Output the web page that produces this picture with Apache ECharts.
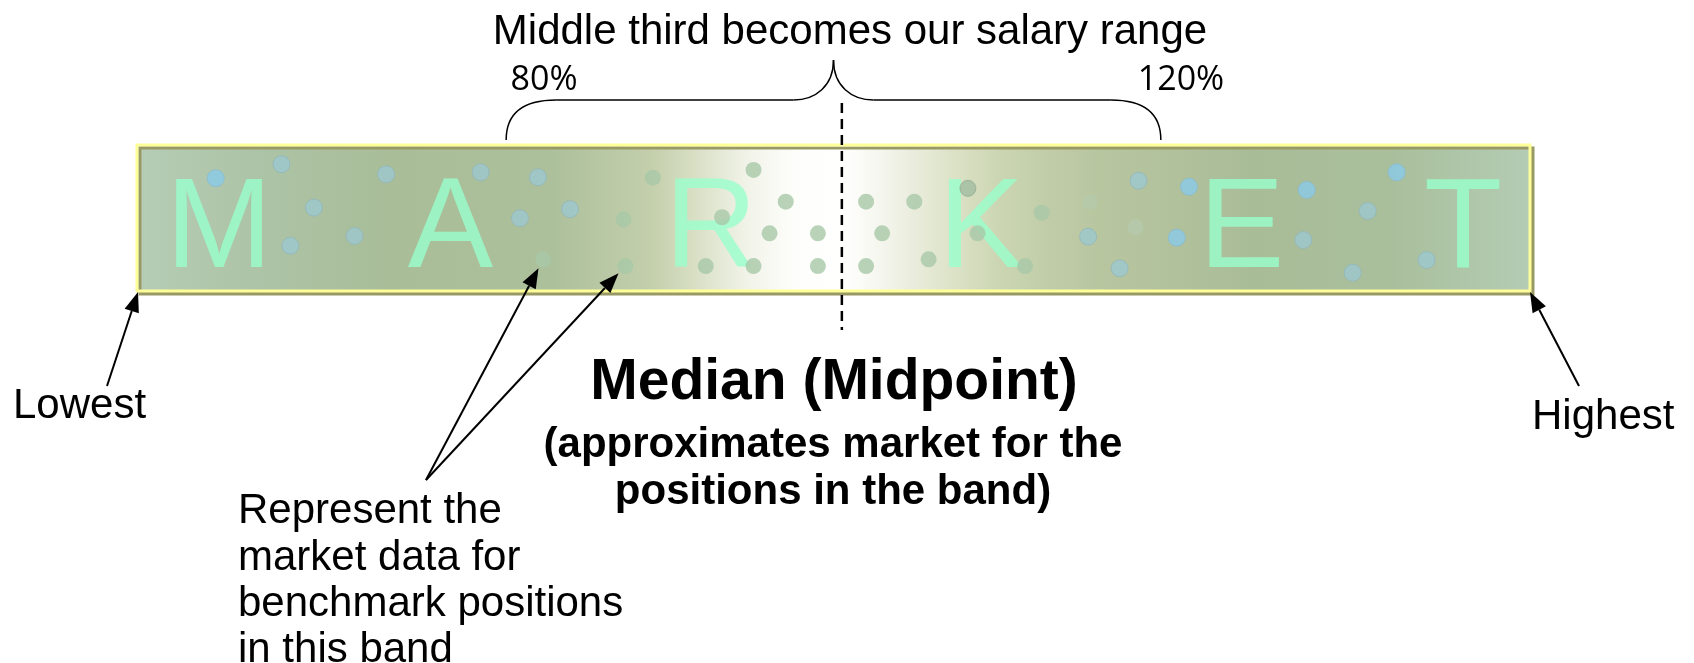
<!DOCTYPE html>
<html>
<head>
<meta charset="utf-8">
<script src="https://cdn.jsdelivr.net/npm/echarts@6/dist/echarts.min.js"></script>
<style>
  html, body { margin: 0; padding: 0; background: #fff; }
  #main { width: 1694px; height: 663px; }
</style>
</head>
<body>
<div id="main"></div>
<script>
// band coordinates: x = % from lowest to highest pay, y = % from bottom to top of the band
var letters = ['M', 'A', 'R', 'K', 'E', 'T'];
var letterX = [5.9, 22.5, 41.2, 60.6, 79.3, 95.2];
var letterY = [40.5, 40.5, 40.5, 40.5, 40.5, 40.5];

// market data points
var brightBlueDots = [[5.65, 77.2], [75.52, 71.4], [74.64, 36.5], [83.97, 69.2], [90.43, 81.3]];
var greyBlueDots = [
  [10.37, 86.8], [12.70, 57.1], [11.01, 31.0], [15.62, 37.7], [17.88, 79.9],
  [24.67, 81.3], [28.78, 77.9], [27.49, 49.8], [31.08, 56.0],
  [71.90, 75.5], [68.28, 37.2], [70.54, 15.5], [83.73, 34.9], [88.35, 54.8],
  [87.27, 12.5], [92.58, 21.2]
];
var greenDots = [
  [29.16, 21.7], [34.93, 49.1], [35.06, 17.1], [37.03, 77.6], [44.26, 82.9],
  [42.00, 50.5], [46.57, 61.2], [45.41, 39.5], [40.83, 17.1], [44.26, 17.1],
  [48.88, 39.5], [48.88, 17.1], [52.34, 61.2], [53.49, 39.5], [52.34, 17.1],
  [55.80, 61.2], [56.83, 21.7], [60.34, 39.5], [63.75, 17.1], [64.95, 53.6]
];
var greyGreenDots = [[59.65, 70.3]];
var faintDots = [[68.41, 61.2], [71.69, 43.6]];

var medianPos = 50.6;
var rangeLow = 26.5, rangeHigh = 73.5, braceTip = 50.0;
// the two dots the "Represent..." note points at
var pointedDots = [[29.16, 21.7], [35.06, 17.1]];

var FONT = '"Liberation Sans", Arial, sans-serif';

var chart = echarts.init(document.getElementById('main'));

var bandFill = new echarts.graphic.LinearGradient(0, 0, 1, 0, [
  { offset: 0, color: '#b6cdb6' },
  { offset: 0.08, color: '#adc4a8' },
  { offset: 0.18, color: '#a8bd98' },
  { offset: 0.30, color: '#adc09c' },
  { offset: 0.37, color: '#c4cfac' },
  { offset: 0.40, color: '#d8dfc4' },
  { offset: 0.44, color: '#f2f4ea' },
  { offset: 0.47, color: '#fdfdfa' },
  { offset: 0.50, color: '#ffffff' },
  { offset: 0.52, color: '#fbfbf7' },
  { offset: 0.548, color: '#eef0e4' },
  { offset: 0.584, color: '#dde3c8' },
  { offset: 0.62, color: '#cbd5b2' },
  { offset: 0.655, color: '#c0cca8' },
  { offset: 0.69, color: '#b8c6a0' },
  { offset: 0.80, color: '#a9bc98' },
  { offset: 0.90, color: '#a9bf9c' },
  { offset: 1, color: '#b4ccb4' }
]);

function dotSeries(data, color, size, border) {
  return {
    type: 'scatter',
    z: 3,
    data: data,
    symbolSize: size,
    silent: true,
    itemStyle: { color: color, borderColor: border || 'transparent', borderWidth: border ? 1 : 0 }
  };
}

chart.setOption({
  animation: false,
  grid: {
    left: 137, top: 145, width: 1393, height: 146,
    show: true,
    backgroundColor: bandFill,
    borderColor: '#ffff99',
    borderWidth: 3,
    shadowColor: '#999966',
    shadowBlur: 0,
    shadowOffsetX: 3,
    shadowOffsetY: 3
  },
  xAxis: { type: 'value', min: 0, max: 100, show: false },
  yAxis: { type: 'value', min: 0, max: 100, show: false },
  series: [
    {
      type: 'scatter',
      z: 1,
      symbolSize: 1,
      silent: true,
      itemStyle: { color: 'transparent' },
      data: letters.map(function (l, i) { return [letterX[i], letterY[i], l]; }),
      label: {
        show: true,
        position: 'inside',
        formatter: function (p) { return p.value[2]; },
        fontFamily: FONT,
        fontSize: 128,
        color: '#99ffcc'
      }
    },
    dotSeries(greenDots, '#a8c8a8', 16),
    dotSeries(faintDots, '#b5c9ab', 16),
    dotSeries(greyGreenDots, '#a0bca0', 16, '#92ac92'),
    dotSeries(greyBlueDots, '#9cc8d0', 17, '#92b6ba'),
    dotSeries(brightBlueDots, '#8acaea', 17, '#88bcd0')
  ]
});

function px(p) { return chart.convertToPixel({ gridIndex: 0 }, p); }

function arrow(x1, y1, x2, y2) {
  var ang = Math.atan2(y2 - y1, x2 - x1);
  var len = 20, half = 7.5;
  var bx = x2 - len * Math.cos(ang), by = y2 - len * Math.sin(ang);
  var nx = -Math.sin(ang) * half, ny = Math.cos(ang) * half;
  return [
    { type: 'line', z: 10, shape: { x1: x1, y1: y1, x2: bx, y2: by }, style: { stroke: '#000', lineWidth: 2 } },
    { type: 'polygon', z: 10, shape: { points: [[x2, y2], [bx + nx, by + ny], [bx - nx, by - ny]] }, style: { fill: '#000' } }
  ];
}

function pointAt(tail, dot) {
  var c = px(dot);
  var d = Math.hypot(tail[0] - c[0], tail[1] - c[1]);
  return [c[0] + (tail[0] - c[0]) * 10 / d, c[1] + (tail[1] - c[1]) * 10 / d];
}

function curve(x1, y1, cx1, cy1, cx2, cy2, x2, y2) {
  return {
    type: 'bezierCurve', z: 10,
    shape: { x1: x1, y1: y1, cpx1: cx1, cpy1: cy1, cpx2: cx2, cpy2: cy2, x2: x2, y2: y2 },
    style: { stroke: '#000', lineWidth: 1.5, fill: null }
  };
}
function seg(x1, y1, x2, y2) {
  return { type: 'line', z: 10, shape: { x1: x1, y1: y1, x2: x2, y2: y2 }, style: { stroke: '#000', lineWidth: 1.5 } };
}

var lowCorner = px([0, 0]);
var highCorner = px([100, 0]);
var medX = px([medianPos, 0])[0];
var bL = px([rangeLow, 100])[0], bR = px([rangeHigh, 100])[0], bT = px([braceTip, 100])[0];
var braceY = 100, braceTop = 60, braceEnd = 140;
var brace = [
  curve(bL, braceEnd, bL, braceY + 12, bL + 18, braceY, bL + 50, braceY),
  seg(bL + 50, braceY, bT - 40, braceY),
  curve(bT - 40, braceY, bT - 18, braceY, bT, braceY - 14, bT, braceTop),
  curve(bT, braceTop, bT, braceY - 14, bT + 18, braceY, bT + 40, braceY),
  seg(bT + 40, braceY, bR - 50, braceY),
  curve(bR - 50, braceY, bR - 18, braceY, bR, braceY + 12, bR, braceEnd)
];

var noteTail = [426, 480];
var tip1 = pointAt(noteTail, pointedDots[0]);
var tip2 = pointAt(noteTail, pointedDots[1]);

function txt(x, y, text, size, opts) {
  opts = opts || {};
  return {
    type: 'text', x: x, y: y + 3, z: 10,
    style: {
      text: text,
      font: (opts.bold ? 'bold ' : '') + size + 'px ' + (opts.family || FONT),
      fill: '#000',
      align: opts.align || 'center',
      verticalAlign: 'middle'
    }
  };
}

var elements = brace.concat([
  { type: 'line', z: 10, shape: { x1: medX, y1: 103, x2: medX, y2: 330 }, style: { stroke: '#000', lineWidth: 2.5, lineDash: [10, 6] } },
  txt(850, 29, 'Middle third becomes our salary range', 42),
  txt(544, 77, '80%', 34, { family: '"Open Sans", "Noto Sans", sans-serif' }),
  txt(1181, 77, '120%', 34, { family: '"Open Sans", "Noto Sans", sans-serif' }),
  txt(834, 380, 'Median (Midpoint)', 57, { bold: true }),
  txt(833, 442, '(approximates market for the', 42, { bold: true }),
  txt(833, 489, 'positions in the band)', 42, { bold: true }),
  txt(13, 403, 'Lowest', 42, { align: 'left' }),
  txt(1532, 414, 'Highest', 42, { align: 'left' }),
  txt(238, 508, 'Represent the', 42, { align: 'left' }),
  txt(238, 555, 'market data for', 42, { align: 'left' }),
  txt(238, 601, 'benchmark positions', 42, { align: 'left' }),
  txt(238, 647, 'in this band', 42, { align: 'left' })
])
  .concat(arrow(107, 386, lowCorner[0] + 1, lowCorner[1] + 1))
  .concat(arrow(1579, 386, highCorner[0], highCorner[1] + 1))
  .concat(arrow(noteTail[0], noteTail[1], tip1[0], tip1[1]))
  .concat(arrow(noteTail[0], noteTail[1], tip2[0], tip2[1]));

chart.setOption({ graphic: { elements: elements } });
</script>
</body>
</html>
